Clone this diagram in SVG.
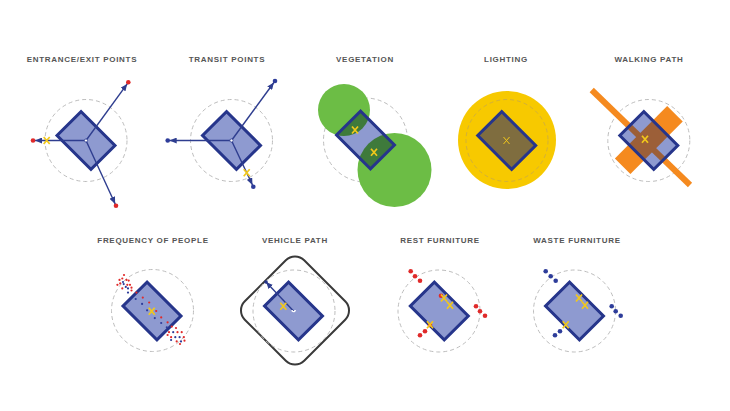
<svg xmlns="http://www.w3.org/2000/svg" width="730" height="411" viewBox="0 0 730 411">
<style>
.title{font-family:"Liberation Sans",Arial,sans-serif;font-weight:bold;font-size:8px;letter-spacing:0.7px;fill:#555;text-anchor:middle}
.dash{fill:none;stroke:#bdbdbd;stroke-width:1;stroke-dasharray:4 3}
.bld{fill:#8e9ad0;stroke:#26358b;stroke-width:3}
.bldo{fill:none;stroke:#26358b;stroke-width:3}
.bldf{fill:#8e9ad0}
.ln{stroke:#2e3d8f;stroke-width:1.4;fill:none}
.xm{fill:none;stroke:#f2c81a;stroke-width:1.7}
.red{fill:#e02a2a}
.blue{fill:#2e3d9a}
.ctr{fill:#fff;stroke:#2e3d8f;stroke-width:0.8}
.fq circle{r:1.1px}
</style>
<defs>
<rect id="b" x="-24" y="-17" width="48" height="34"/>
<path id="x" d="M-3,-3.5 L3,3.5 M3,-3.5 L-3,3.5"/>
<marker id="ah" markerUnits="userSpaceOnUse" markerWidth="7" markerHeight="6" refX="9" refY="3" orient="auto">
<path d="M0,0 L7,3 L0,6 z" fill="#2e3d8f"/>
</marker>
<marker id="ah2" markerUnits="userSpaceOnUse" markerWidth="7" markerHeight="6" refX="7" refY="3" orient="auto">
<path d="M0,0 L7,3 L0,6 z" fill="#2e3d8f"/>
</marker>
<clipPath id="cVeg"><use href="#b" transform="translate(365.5,140) rotate(45)"/></clipPath>
<clipPath id="cWalk"><use href="#b" transform="translate(648.8,140.5) rotate(45)"/></clipPath>
</defs>

<!-- Panel 1: Entrance/Exit points -->
<g id="entrance">
<text class="title" x="82" y="62">ENTRANCE/EXIT POINTS</text>
<circle class="dash" cx="86" cy="140.5" r="41"/>
<use href="#b" class="bld" transform="translate(86,140.5) rotate(45)"/>
<g class="connectors">
<line class="ln" x1="86" y1="140.5" x2="128.3" y2="82.3" marker-end="url(#ah)"/>
<line class="ln" x1="86" y1="140.5" x2="33" y2="140.5" marker-end="url(#ah)"/>
<line class="ln" x1="86" y1="140.5" x2="116" y2="205.7" marker-end="url(#ah)"/>
</g>
<circle class="ctr" cx="86" cy="140.5" r="1.6"/>
<circle class="red" cx="128.3" cy="82.3" r="2.3"/>
<circle class="red" cx="33" cy="140.5" r="2.3"/>
<circle class="red" cx="116" cy="205.7" r="2.3"/>
<use href="#x" class="xm" x="46.7" y="140.5"/>
</g>

<!-- Panel 2: Transit points -->
<g id="transit">
<text class="title" x="227" y="62">TRANSIT POINTS</text>
<circle class="dash" cx="231.5" cy="140.5" r="41"/>
<use href="#b" class="bld" transform="translate(231.5,140.5) rotate(45)"/>
<g class="connectors">
<line class="ln" x1="231.5" y1="140.5" x2="275" y2="81" marker-end="url(#ah)"/>
<line class="ln" x1="231.5" y1="140.5" x2="167.7" y2="140.5" marker-end="url(#ah)"/>
<line class="ln" x1="231.5" y1="140.5" x2="253.3" y2="186.7" marker-end="url(#ah)"/>
</g>
<circle class="ctr" cx="231.5" cy="140.5" r="1.6"/>
<circle class="blue" cx="275" cy="81" r="2.3"/>
<circle class="blue" cx="167.7" cy="140.5" r="2.3"/>
<circle class="blue" cx="253.3" cy="186.7" r="2.3"/>
<use href="#x" class="xm" x="246.7" y="172.7"/>
</g>

<!-- Panel 3: Vegetation -->
<g id="vegetation">
<text class="title" x="365" y="62">VEGETATION</text>
<circle class="dash" cx="365.5" cy="140" r="42"/>
<circle cx="344" cy="110" r="26" fill="#6cbd45"/>
<circle cx="394.5" cy="170" r="37" fill="#6cbd45"/>
<use href="#b" class="bldf" transform="translate(365.5,140) rotate(45)"/>
<g clip-path="url(#cVeg)" fill="#3e7a3b">
<circle cx="344" cy="110" r="26"/>
<circle cx="394.5" cy="170" r="37"/>
</g>
<use href="#b" class="bldo" transform="translate(365.5,140) rotate(45)"/>
<use href="#x" class="xm" x="355" y="130"/>
<use href="#x" class="xm" x="374" y="152.3"/>
</g>

<!-- Panel 4: Lighting -->
<g id="lighting">
<text class="title" x="506" y="62">LIGHTING</text>
<circle cx="507" cy="140" r="49" fill="#f7c900"/>
<circle cx="507" cy="140.5" r="41" fill="none" stroke="#d2b03a" stroke-width="1" stroke-dasharray="4 3"/>
<use href="#b" fill="#7f6d3f" stroke="#26358b" stroke-width="3" transform="translate(506.7,140.5) rotate(45)"/>
<use href="#x" fill="none" stroke="#f2c81a" stroke-width="1" x="506.5" y="140.5"/>
</g>

<!-- Panel 5: Walking path -->
<g id="walking-path">
<text class="title" x="649" y="62">WALKING PATH</text>
<circle class="dash" cx="648.8" cy="140.5" r="41"/>
<line x1="591.7" y1="90" x2="690" y2="185" stroke="#f58a1f" stroke-width="6"/>
<rect x="-37" y="-11" width="74" height="22" fill="#f58a1f" transform="translate(648.8,140) rotate(-45)"/>
<use href="#b" class="bldf" transform="translate(648.8,140.5) rotate(45)"/>
<g clip-path="url(#cWalk)">
<line x1="591.7" y1="90" x2="690" y2="185" stroke="#9c5f38" stroke-width="6"/>
<rect x="-37" y="-11" width="74" height="22" fill="#9c5f38" transform="translate(648.8,140) rotate(-45)"/>
</g>
<use href="#b" class="bldo" transform="translate(648.8,140.5) rotate(45)"/>
<use href="#x" class="xm" x="645" y="139.3"/>
</g>

<!-- Panel 6: Frequency of people -->
<g id="frequency">
<text class="title" x="153" y="243">FREQUENCY OF PEOPLE</text>
<circle class="dash" cx="152.5" cy="310.5" r="41"/>
<use href="#b" class="bld" transform="translate(152,311) rotate(45)"/>
<g class="red fq">
<circle cx="122.3" cy="278.5" r="1.1"/><circle cx="120.2" cy="283.4" r="1.1"/><circle cx="126.5" cy="279.9" r="1.1"/>
<circle cx="128.7" cy="280.6" r="1.1"/><circle cx="122.3" cy="288.4" r="1.1"/><circle cx="127.3" cy="284.8" r="1.1"/>
<circle cx="130" cy="284.8" r="1.1"/><circle cx="131.5" cy="287.7" r="1.1"/><circle cx="131.5" cy="290.5" r="1.1"/>
<circle cx="117.4" cy="284.8" r="1.1"/><circle cx="119.5" cy="279.9" r="1.1"/>
<circle cx="136.4" cy="292.6" r="1.1"/><circle cx="142.8" cy="297.6" r="1.1"/><circle cx="149.2" cy="302.5" r="1.1"/>
<circle cx="156.2" cy="311" r="1.1"/><circle cx="161.2" cy="317.4" r="1.1"/><circle cx="167.6" cy="322.3" r="1.1"/>
<circle cx="171.8" cy="326.6" r="1.1"/><circle cx="169" cy="332.2" r="1.1"/><circle cx="176" cy="328" r="1.1"/>
<circle cx="171.1" cy="337.2" r="1.1"/><circle cx="177.5" cy="332.2" r="1.1"/><circle cx="181.7" cy="332.2" r="1.1"/>
<circle cx="176.7" cy="341.4" r="1.1"/><circle cx="183.8" cy="337.2" r="1.1"/><circle cx="184.5" cy="340.7" r="1.1"/>
<circle cx="167.6" cy="335" r="1.1"/><circle cx="124" cy="275" r="1.1"/><circle cx="180" cy="344" r="1.1"/>
</g>
<g class="blue fq">
<circle cx="123.7" cy="284.1" r="1.1"/><circle cx="125.8" cy="286.9" r="1.1"/><circle cx="128" cy="288.4" r="1.1"/>
<circle cx="128" cy="292.6" r="1.1"/><circle cx="123" cy="282" r="1.1"/>
<circle cx="135.7" cy="299" r="1.1"/><circle cx="142.1" cy="303.9" r="1.1"/><circle cx="147.1" cy="310.3" r="1.1"/>
<circle cx="154.8" cy="318.1" r="1.1"/><circle cx="161.2" cy="323" r="1.1"/><circle cx="166.8" cy="327.3" r="1.1"/>
<circle cx="173.2" cy="332.2" r="1.1"/><circle cx="175.3" cy="337.2" r="1.1"/><circle cx="179.6" cy="337.2" r="1.1"/>
<circle cx="181" cy="341.4" r="1.1"/><circle cx="171.1" cy="340" r="1.1"/>
</g>
<use href="#x" class="xm" x="151.7" y="311.3"/>
</g>

<!-- Panel 7: Vehicle path -->
<g id="vehicle-path">
<text class="title" x="295" y="243">VEHICLE PATH</text>
<rect x="-42" y="-42" width="84" height="84" rx="13" fill="none" stroke="#3a3a3a" stroke-width="2" transform="translate(295,310.5) rotate(45)"/>
<circle class="dash" cx="294" cy="311" r="41"/>
<use href="#b" class="bld" transform="translate(293.5,311) rotate(45)"/>
<g class="connectors">
<line class="ln" x1="293.5" y1="311" x2="266" y2="282" marker-end="url(#ah2)"/>
</g>
<circle cx="266" cy="282" r="1.8" fill="#26358b"/>
<path d="M292,310 a1.6,1.6 0 1 0 3.2,0" fill="none" stroke="#fff" stroke-width="1.4"/>
<use href="#x" class="xm" x="283.3" y="306.3"/>
</g>

<!-- Panel 8: Rest furniture -->
<g id="rest-furniture">
<text class="title" x="440" y="243">REST FURNITURE</text>
<circle class="dash" cx="439" cy="311" r="41"/>
<use href="#b" class="bld" transform="translate(439.3,311) rotate(45)"/>
<g class="red">
<circle cx="410.7" cy="271.3" r="2.3"/><circle cx="415" cy="276.3" r="2.3"/><circle cx="420" cy="280.7" r="2.3"/>
<circle cx="476" cy="306.3" r="2.3"/><circle cx="480" cy="311.3" r="2.3"/><circle cx="485" cy="315.7" r="2.3"/>
<circle cx="420" cy="335.3" r="2.3"/><circle cx="425" cy="331.3" r="2.3"/><circle cx="430" cy="325" r="2.3"/>
<circle cx="441" cy="295.7" r="2.3"/>
</g>
<use href="#x" class="xm" x="430" y="324.7"/>
<use href="#x" class="xm" x="444" y="298"/>
<use href="#x" class="xm" x="450" y="305.3"/>
</g>

<!-- Panel 9: Waste furniture -->
<g id="waste-furniture">
<text class="title" x="577" y="243">WASTE FURNITURE</text>
<circle class="dash" cx="574.5" cy="311" r="41"/>
<use href="#b" class="bld" transform="translate(574.5,311) rotate(45)"/>
<g class="blue">
<circle cx="545.7" cy="271.3" r="2.3"/><circle cx="550.7" cy="276.3" r="2.3"/><circle cx="555.7" cy="280.7" r="2.3"/>
<circle cx="611.7" cy="306.3" r="2.3"/><circle cx="615.7" cy="311.3" r="2.3"/><circle cx="620.7" cy="315.7" r="2.3"/>
<circle cx="555" cy="335.3" r="2.3"/><circle cx="560" cy="331.3" r="2.3"/>
</g>
<use href="#x" class="xm" x="565.7" y="324.7"/>
<use href="#x" class="xm" x="579" y="298"/>
<use href="#x" class="xm" x="585" y="305.3"/>
</g>
</svg>
